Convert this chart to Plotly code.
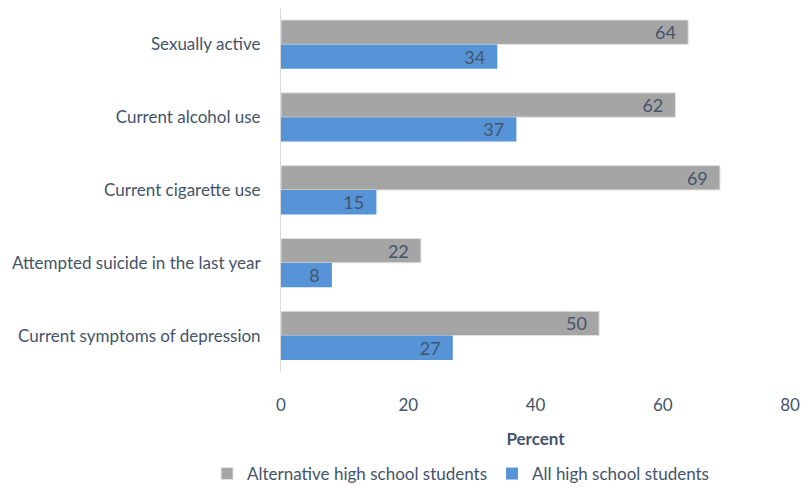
import plotly.graph_objects as go

categories = ["Sexually active", "Current alcohol use", "Current cigarette use",
              "Attempted suicide in the last year", "Current symptoms of depression"]
alt_students = [64, 62, 69, 22, 50]
all_students = [34, 37, 15, 8, 27]
series_names = ["Alternative high school students", "All high school students"]
x_ticks = [0, 20, 40, 60, 80]

FONT = "Lato, Open Sans, sans-serif"
TXT = "#44546A"
FS = 17

fig = go.Figure()
fig.add_trace(go.Bar(
    y=categories, x=alt_students, orientation="h", name=series_names[0],
    marker=dict(color="#A5A5A5", line=dict(color="#E3E3E3", width=1)),
    text=[f"{v}\u00a0\u00a0" for v in alt_students], textposition="inside",
    insidetextanchor="end", constraintext="none", textangle=0,
    textfont=dict(family=FONT, size=18, color=TXT),
))
fig.add_trace(go.Bar(
    y=categories, x=all_students, orientation="h", name=series_names[1],
    marker=dict(color="#5694D7", line=dict(width=0)),
    text=[f"{v}\u00a0\u00a0" for v in all_students], textposition="inside",
    insidetextanchor="end", constraintext="none", textangle=0,
    textfont=dict(family=FONT, size=18, color=TXT),
))

fig.update_layout(
    width=812, height=492,
    margin=dict(l=281, r=22, t=8, b=120),
    barmode="group", bargap=0.33, bargroupgap=0,
    plot_bgcolor="white", paper_bgcolor="white",
    font=dict(family=FONT, size=FS, color=TXT),
    xaxis=dict(range=[0, 80], tickvals=x_ticks, showgrid=False, zeroline=False,
               automargin=False,
               ticks="outside", ticklen=18, tickcolor="rgba(0,0,0,0)",
               tickfont=dict(family=FONT, size=FS, color=TXT),
               title=dict(text="<b>Percent</b>", standoff=18,
                          font=dict(family=FONT, size=FS, color=TXT))),
    yaxis=dict(autorange="reversed", showgrid=False, showline=True,
               linecolor="#D9D9D9", linewidth=1, automargin=False,
               ticks="outside", ticklen=16, tickcolor="rgba(0,0,0,0)",
               tickfont=dict(family=FONT, size=FS, color=TXT)),
    legend=dict(orientation="h", xref="container", yref="container",
                x=0.255, xanchor="left", y=0.0, yanchor="bottom",
                font=dict(family=FONT, size=FS, color=TXT),
                itemwidth=30, traceorder="normal"),
    showlegend=True,
)

fig.write_html("out.html")
